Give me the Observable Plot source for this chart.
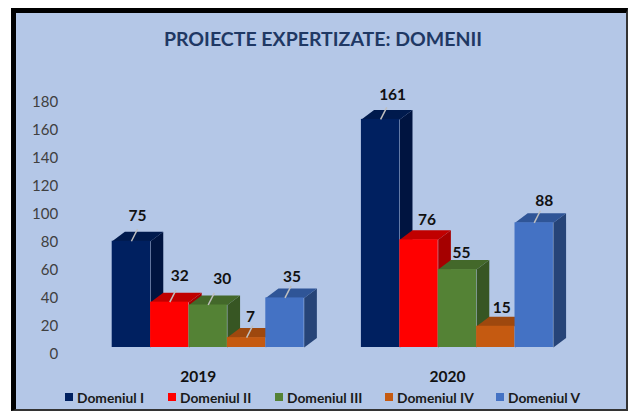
<!DOCTYPE html>
<html>
<head>
<meta charset="utf-8">
<script src="https://cdn.jsdelivr.net/npm/d3@7"></script>
<script src="https://cdn.jsdelivr.net/npm/@observablehq/plot@0.6"></script>
<style>
  html, body { margin: 0; padding: 0; background: #fff; width: 630px; height: 412px; overflow: hidden; font-family: Lato, sans-serif; }
  #panel { position: absolute; left: 11px; top: 8px; width: 610px; height: 396px; background: #b4c7e7;
           border-left: 5px solid #000; border-top: 5px solid #000; border-right: 2px solid #333; border-bottom: 2px solid #333; }
  #title { position: absolute; left: 0; width: 646px; top: 27px; text-align: center; margin: 0;
           font: 700 19.5px Lato, sans-serif; color: #1f3864; }
  #chart { position: absolute; left: 0; top: 70px; }
  #legend { position: absolute; left: 65px; top: 389px; font: 700 13.8px Lato, sans-serif; color: #1a1a1a; white-space: nowrap; }
  #legend .item { position: absolute; display: flex; align-items: center; height: 16px; }
  #legend .sw { width: 8px; height: 8px; margin-right: 4px; }
</style>
</head>
<body>
<div id="panel"></div>
<h1 id="title">PROIECTE EXPERTIZATE: DOMENII</h1>
<div id="chart"></div>
<div id="legend"></div>
<script>
const years = ["2019", "2020"];
const domains = ["Domeniul I", "Domeniul II", "Domeniul III", "Domeniul IV", "Domeniul V"];
const values2019 = [75, 32, 30, 7, 35];
const values2020 = [161, 76, 55, 15, 88];
const tickValues = [0, 20, 40, 60, 80, 100, 120, 140, 160, 180];

const frontColors = ["#002060", "#ff0000", "#548235", "#c55a11", "#4472c4"];
const topColors = ["#001a4d", "#c00000", "#43682a", "#9e480e", "#2f5597"];
const sideColors = ["#001440", "#a50000", "#375623", "#843c0c", "#264478"];

// layout of the pseudo-3D drawing, in scale units
const groupStart = [0, 6.49];
const depthX = 0.33, depthY = 6.7, wallScale = 0.988;
const labelDx2019 = [6, 10, 14, 4, 7], labelDy2019 = [-25, -26, -26, -21, -21];
const labelDx2020 = [12, 8, 4, 6, 10], labelDy2020 = [-24, -20, -17, -18, -22];
const leaders2019 = [true, true, true, true, true];
const leaders2020 = [true, false, false, false, true];

const rows = [];
[values2019, values2020].forEach((vals, g) => vals.forEach((v, i) => rows.push({
  year: years[g], domain: domains[i], value: v,
  x1: groupStart[g] + i, x2: groupStart[g] + i + 1,
  front: frontColors[i], top: topColors[i], side: sideColors[i],
  dx: (g ? labelDx2020 : labelDx2019)[i], dy: (g ? labelDy2020 : labelDy2019)[i],
  leader: (g ? leaders2020 : leaders2019)[i]
})));

const faces = rows.flatMap((r, n) => {
  const {x1, x2, value: v} = r;
  const side = [[x2, 0], [x2 + depthX, depthY], [x2 + depthX, v + depthY], [x2, v]];
  const top = [[x1, v], [x1 + depthX, v + depthY], [x2 + depthX, v + depthY], [x2, v]];
  return [
    ...side.map(([x, y]) => ({id: `s${n}`, x, y, fill: r.side})),
    ...top.map(([x, y]) => ({id: `t${n}`, x, y, fill: r.top}))
  ];
});

const leaderRows = rows.filter(r => r.leader);
const mid = r => (r.x1 + r.x2) / 2;

const plot = Plot.plot({
  width: 630, height: 315,
  marginLeft: 111.7, marginRight: 57.5, marginTop: 7.8, marginBottom: 38,
  style: {background: "transparent", fontFamily: "Lato, sans-serif"},
  x: {domain: [0, 12], axis: null},
  y: {domain: [0, 190], axis: null},
  marks: [
    Plot.text(tickValues, {
      y: d => d * wallScale, text: d => String(d), frameAnchor: "left", textAnchor: "end",
      dx: -54, dy: 7, fontSize: 15, fill: "#404040"
    }),
    Plot.line(faces, {x: "x", y: "y", z: "id", fill: "fill", stroke: null, curve: "linear"}),
    Plot.rectY(rows, {x1: "x1", x2: "x2", y1: 0, y2: "value", fill: "front", inset: 0}),
    Plot.link(leaderRows, {
      x1: mid, y1: "value", x2: r => mid(r) + 0.16, y2: r => r.value + 8.5,
      stroke: "#bfbfbf", strokeWidth: 1.5
    }),
    ...rows.map(r => Plot.text([r], {
      x: mid, y: "value", text: d => String(d.value), dx: r.dx, dy: r.dy,
      fontSize: 15.5, fontWeight: 700, fill: "#111"
    })),
    Plot.text(years, {
      x: (d, i) => groupStart[i] + domains.length / 2, y: () => 0, text: d => d,
      dx: -10, dy: 30, fontSize: 15.5, fontWeight: 700, fill: "#111"
    })
  ]
});
document.getElementById("chart").append(plot);

const legendX = [0, 103, 210, 320, 431];
const legend = document.getElementById("legend");
domains.forEach((name, i) => {
  const item = document.createElement("div");
  item.className = "item";
  item.style.left = legendX[i] + "px";
  item.innerHTML = `<span class="sw" style="background:${frontColors[i]}"></span><span>${name}</span>`;
  legend.append(item);
});
</script>
</body>
</html>
